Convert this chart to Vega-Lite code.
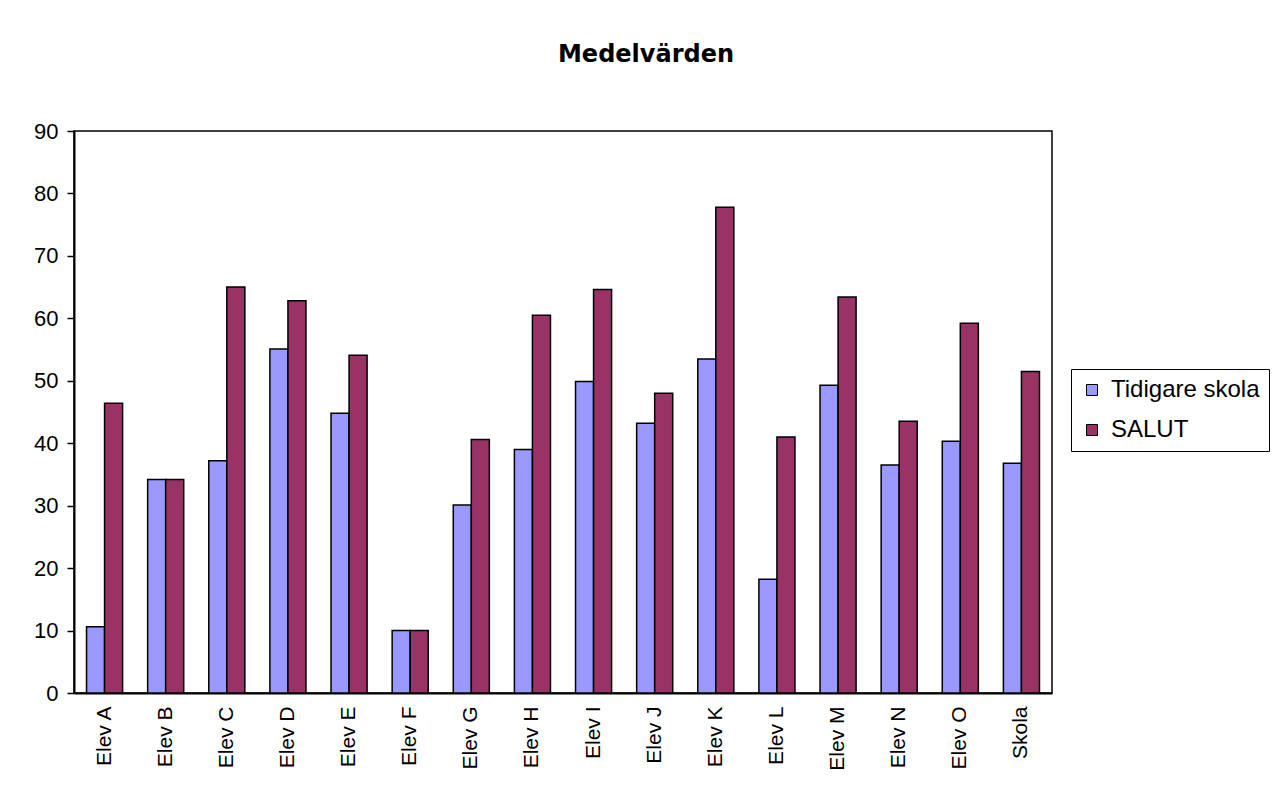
{
  "$schema": "https://vega.github.io/schema/vega-lite/v6.json",
  "autosize": {"type": "none"},
  "width": 978,
  "height": 562,
  "padding": {"left": 74, "top": 131, "right": 222, "bottom": 94},
  "background": "white",
  "title": {
    "text": "Medelvärden",
    "font": "DejaVu Sans",
    "fontSize": 24,
    "fontWeight": "bold",
    "color": "black",
    "anchor": "middle",
    "frame": "group",
    "orient": "top",
    "offset": 53,
    "dx": 83
  },
  "data": {
    "values": [
      {"elev": "Elev A", "serie": "Tidigare skola", "value": 10.6},
      {"elev": "Elev A", "serie": "SALUT", "value": 46.4},
      {"elev": "Elev B", "serie": "Tidigare skola", "value": 34.2},
      {"elev": "Elev B", "serie": "SALUT", "value": 34.2},
      {"elev": "Elev C", "serie": "Tidigare skola", "value": 37.2},
      {"elev": "Elev C", "serie": "SALUT", "value": 65.0},
      {"elev": "Elev D", "serie": "Tidigare skola", "value": 55.1},
      {"elev": "Elev D", "serie": "SALUT", "value": 62.8},
      {"elev": "Elev E", "serie": "Tidigare skola", "value": 44.8},
      {"elev": "Elev E", "serie": "SALUT", "value": 54.1},
      {"elev": "Elev F", "serie": "Tidigare skola", "value": 10.0},
      {"elev": "Elev F", "serie": "SALUT", "value": 10.0},
      {"elev": "Elev G", "serie": "Tidigare skola", "value": 30.1},
      {"elev": "Elev G", "serie": "SALUT", "value": 40.6},
      {"elev": "Elev H", "serie": "Tidigare skola", "value": 39.0},
      {"elev": "Elev H", "serie": "SALUT", "value": 60.5},
      {"elev": "Elev I", "serie": "Tidigare skola", "value": 49.9},
      {"elev": "Elev I", "serie": "SALUT", "value": 64.6},
      {"elev": "Elev J", "serie": "Tidigare skola", "value": 43.2},
      {"elev": "Elev J", "serie": "SALUT", "value": 48.0},
      {"elev": "Elev K", "serie": "Tidigare skola", "value": 53.5},
      {"elev": "Elev K", "serie": "SALUT", "value": 77.8},
      {"elev": "Elev L", "serie": "Tidigare skola", "value": 18.2},
      {"elev": "Elev L", "serie": "SALUT", "value": 41.0},
      {"elev": "Elev M", "serie": "Tidigare skola", "value": 49.3},
      {"elev": "Elev M", "serie": "SALUT", "value": 63.4},
      {"elev": "Elev N", "serie": "Tidigare skola", "value": 36.5},
      {"elev": "Elev N", "serie": "SALUT", "value": 43.5},
      {"elev": "Elev O", "serie": "Tidigare skola", "value": 40.3},
      {"elev": "Elev O", "serie": "SALUT", "value": 59.2},
      {"elev": "Skola", "serie": "Tidigare skola", "value": 36.8},
      {"elev": "Skola", "serie": "SALUT", "value": 51.5}
    ]
  },
  "mark": {"type": "bar", "stroke": "black", "strokeWidth": 1.5},
  "encoding": {
    "x": {
      "field": "elev",
      "type": "nominal",
      "sort": null,
      "scale": {"paddingInner": 0.41, "paddingOuter": 0.205},
      "axis": {
        "title": null,
        "labelAngle": -90,
        "labelFont": "Liberation Sans",
        "labelFontSize": 21,
        "labelColor": "black",
        "labelPadding": 13,
        "ticks": false,
        "domainColor": "black",
        "domainWidth": 2
      }
    },
    "xOffset": {
      "field": "serie",
      "type": "nominal",
      "sort": ["Tidigare skola", "SALUT"],
      "scale": {"paddingInner": 0, "paddingOuter": 0}
    },
    "y": {
      "field": "value",
      "type": "quantitative",
      "scale": {"domain": [0, 90], "nice": false},
      "axis": {
        "title": null,
        "values": [0, 10, 20, 30, 40, 50, 60, 70, 80, 90],
        "grid": false,
        "labelFont": "Liberation Sans",
        "labelFontSize": 22,
        "labelColor": "black",
        "labelPadding": 9,
        "tickSize": 7,
        "tickColor": "black",
        "tickWidth": 1.5,
        "domainColor": "black",
        "domainWidth": 2
      }
    },
    "color": {
      "field": "serie",
      "type": "nominal",
      "sort": ["Tidigare skola", "SALUT"],
      "scale": {"domain": ["Tidigare skola", "SALUT"], "range": ["#9999FF", "#993366"]},
      "legend": {
        "title": null,
        "orient": "none",
        "legendX": 997,
        "legendY": 238,
        "labelFont": "Liberation Sans",
        "labelFontSize": 24,
        "labelColor": "black",
        "labelOffset": 7,
        "labelLimit": 200,
        "symbolType": "square",
        "symbolSize": 121,
        "symbolStrokeColor": "black",
        "symbolStrokeWidth": 1,
        "symbolOpacity": 1,
        "rowPadding": 16,
        "padding": 9,
        "strokeColor": "black",
        "fillColor": "white"
      }
    }
  },
  "config": {
    "view": {"stroke": "black", "strokeWidth": 1.5}
  }
}
